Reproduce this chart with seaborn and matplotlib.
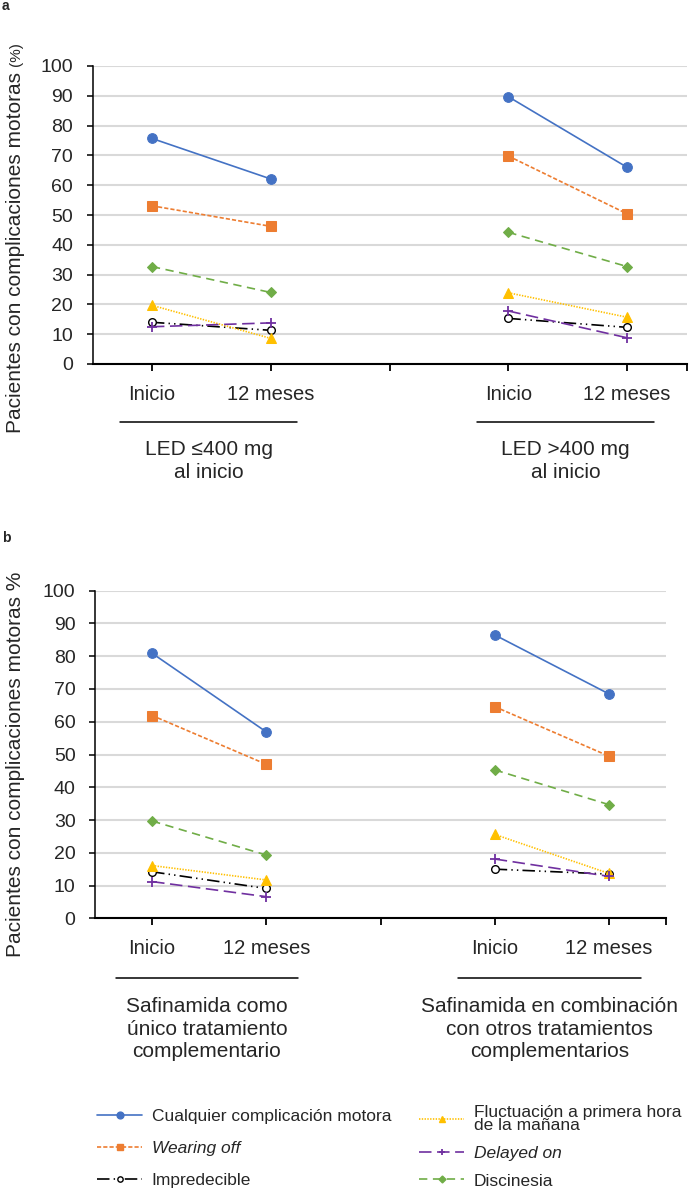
import numpy as np
import pandas as pd
import seaborn as sns
import matplotlib.pyplot as plt
from matplotlib.lines import Line2D

sns.set_style("ticks")
plt.rcParams['font.family'] = ['Liberation Sans', 'DejaVu Sans']
plt.rcParams['lines.scale_dashes'] = False

# x positions: two groups (Inicio, 12 meses), slot 3 left empty
momentos = ["Inicio", "12 meses", "", "Inicio", "12 meses", ""]
posiciones = [1, 2, 4, 5]

series = ["Cualquier complicación motora", "Wearing off", "Impredecible",
          "Fluctuación a primera hora\nde la mañana", "Delayed on", "Discinesia"]

# values: [grupo1 inicio, grupo1 12 meses, grupo2 inicio, grupo2 12 meses]
grupos_a = ["LED ≤400 mg\nal inicio", "LED >400 mg\nal inicio"]
cualquier_a = [75.7, 62.1, 89.7, 66.0]
wearing_a = [53.1, 46.2, 69.8, 50.4]
impred_a = [14.0, 11.3, 15.3, 12.3]
fluct_a = [19.7, 8.6, 23.9, 15.7]
delayed_a = [12.5, 13.8, 17.8, 8.8]
discin_a = [32.7, 24.0, 44.2, 32.7]

grupos_b = ["Safinamida como\núnico tratamiento\ncomplementario",
            "Safinamida en combinación\ncon otros tratamientos\ncomplementarios"]
cualquier_b = [80.9, 56.9, 86.5, 68.5]
wearing_b = [61.9, 47.0, 64.6, 49.5]
impred_b = [14.2, 9.1, 15.0, 13.5]
fluct_b = [16.1, 11.7, 25.6, 13.7]
delayed_b = [11.2, 6.6, 18.1, 12.8]
discin_b = [29.7, 19.3, 45.3, 34.7]

estilos = {
    series[0]: dict(color='#4472C4', linestyle='-', marker='o', markersize=7,
                    markerfacecolor='#4472C4', markeredgecolor='#4472C4'),
    series[1]: dict(color='#ED7D31', linestyle=(0, (3, 1.5)), marker='s', markersize=6.5,
                    markerfacecolor='#ED7D31', markeredgecolor='#ED7D31'),
    series[2]: dict(color='black', linestyle=(0, (9, 3, 1, 3, 1, 3)), marker='o', markersize=5.5,
                    markerfacecolor='white', markeredgecolor='black', markeredgewidth=1.0),
    series[3]: dict(color='#FFC000', linestyle=(0, (1, 1)), marker='^', markersize=7,
                    markerfacecolor='#FFC000', markeredgecolor='#FFC000'),
    series[4]: dict(color='#7030A0', linestyle=(0, (9, 4)), marker='+', markersize=7,
                    markeredgecolor='#7030A0', markeredgewidth=1.3),
    series[5]: dict(color='#70AD47', linestyle=(0, (6, 4)), marker='D', markersize=5,
                    markerfacecolor='#70AD47', markeredgecolor='#70AD47'),
}


def panel(ax, valores, grupos, media_linea, y_linea, y_texto):
    filas = []
    for serie, vals in zip(series, valores):
        for i, v in enumerate(vals):
            filas.append(dict(serie=serie, grupo=grupos[i // 2], pos=posiciones[i], valor=v))
    df = pd.DataFrame(filas)
    for serie in series:
        sns.lineplot(data=df[df.serie == serie], x='pos', y='valor', units='grupo',
                     estimator=None, ax=ax, legend=False, linewidth=1.2, **estilos[serie])
    ax.set_xlim(0.5, 5.5)
    ax.set_ylim(0, 100)
    ax.set_yticks(range(0, 101, 10))
    ax.set_xticks([1, 2, 3, 4, 5, 5.5])
    ax.set_xticklabels(momentos)
    ax.set_xlabel('')
    ax.set_ylabel('')
    ax.yaxis.grid(True, color='#d9d9d9', linewidth=1.5)
    ax.set_axisbelow(True)
    sns.despine(ax=ax)
    ax.spines['left'].set_linewidth(1.1)
    ax.spines['bottom'].set_linewidth(1.5)
    ax.spines['left'].set_color('black')
    ax.spines['bottom'].set_color('black')
    ax.tick_params(axis='y', length=4, width=1.1, color='black', labelsize=14, pad=10)
    ax.tick_params(axis='x', length=5, width=1.3, color='black', labelsize=14.5, pad=10)
    tr = ax.get_xaxis_transform()
    for g, centro in zip(grupos, [1.48, 4.48]):
        ax.plot([centro - media_linea, centro + media_linea], [y_linea, y_linea],
                transform=tr, clip_on=False, color='black', linewidth=1.1)
        ax.text(centro, y_texto, g, transform=tr, ha='center', va='center',
                fontsize=15, linespacing=1.25)


fig = plt.figure(figsize=(6.94, 11.92), dpi=100)
W, H = 694, 1192
ax_a = fig.add_axes([92.5 / W, 1 - 364 / H, 594 / W, 298 / H])
ax_b = fig.add_axes([95 / W, 1 - 918.3 / H, 571 / W, 327.6 / H])

panel(ax_a, [cualquier_a, wearing_a, impred_a, fluct_a, delayed_a, discin_a],
      grupos_a, 0.745, -0.195, -0.326)
panel(ax_b, [cualquier_b, wearing_b, impred_b, fluct_b, delayed_b, discin_b],
      grupos_b, 0.80, -0.182, -0.338)

# y labels
lab = fig.text(16 / W, 1 - 433 / H, "Pacientes con complicaciones motoras", rotation=90,
               ha='center', va='bottom', fontsize=15)
fig.canvas.draw()
fig.text(16 / W, 1 - 433 / H + lab.get_window_extent().height / H + 6 / H, "(%)",
         rotation=90, ha='center', va='bottom', fontsize=11)
fig.text(16 / W, 1 - 572 / H, "Pacientes con complicaciones motoras %", rotation=90,
         ha='center', va='top', fontsize=15)

# panel letters
fig.text(2 / W, 1 - 6 / H, "a", fontsize=10, fontweight='bold', va='center')
fig.text(2 / W, 1 - 538 / H, "b", fontsize=10, fontweight='bold', va='center')

# legend in two columns
handles = [Line2D([], [], linewidth=1.2, **estilos[s]) for s in series]
for h in handles:
    h.set_markersize(h.get_markersize() * 0.7)
leg_kw = dict(frameon=False, fontsize=12.5, handlelength=2.6, handletextpad=0.55,
              borderpad=0, borderaxespad=0, loc='upper left')
leg1 = fig.legend(handles[:3], series[:3], bbox_to_anchor=(97 / W, 1 - 1109 / H),
                  labelspacing=0.98, **leg_kw)
leg2 = fig.legend(handles[3:], series[3:], bbox_to_anchor=(419 / W, 1 - 1105 / H),
                  labelspacing=0.72, **leg_kw)
leg1.get_texts()[1].set_fontstyle('italic')
leg2.get_texts()[1].set_fontstyle('italic')
leg2.get_texts()[0].set_linespacing(0.85)

fig.savefig("out.png", dpi=100)
